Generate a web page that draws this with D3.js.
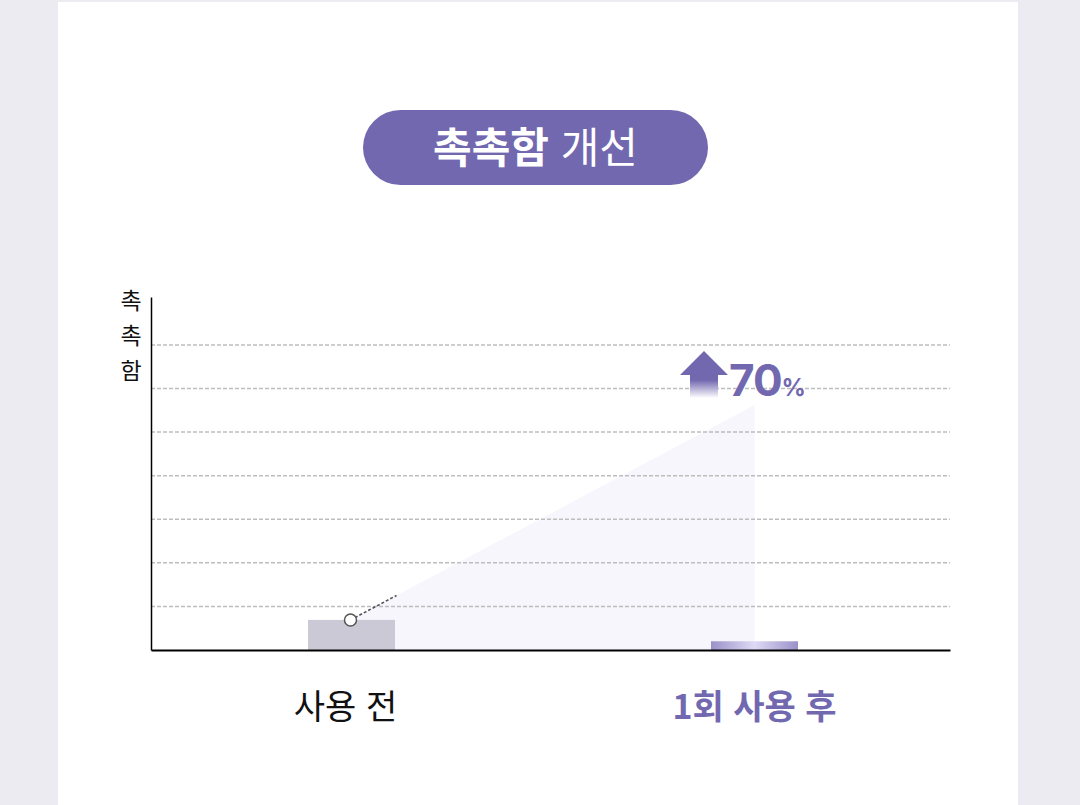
<!DOCTYPE html>
<html lang="ko">
<head>
  <meta charset="UTF-8">
  <title>촉촉함 개선</title>
  <script src="https://d3js.org/d3.v7.min.js"></script>
  <style>
    html, body { margin: 0; padding: 0; background: #ecebf1; }
    body { font-family: "Noto Sans CJK KR", "Noto Sans", sans-serif; }
    svg { display: block; }
  </style>
</head>
<body>
  <div id="chart"></div>
  <script>
    // chart data
    const categories = ["사용 전", "1회 사용 후"];
    const barValues = [0.69, 0.2];
    const trendStart = 0.69;   // circle on first bar
    const trendEnd = 5.62;     // top of shaded rise at 2nd bar
    const gridTicks = [1, 2, 3, 4, 5, 6, 7];
    const increaseLabel = "70";

    const width = 1080, height = 805;
    const svg = d3.select("#chart").append("svg")
      .attr("width", width).attr("height", height);

    // white card
    svg.append("rect").attr("x", 58).attr("y", 2).attr("width", 960).attr("height", 803)
      .attr("fill", "#ffffff");

    const defs = svg.append("defs");
    const barGrad = defs.append("linearGradient").attr("id", "barGrad")
      .attr("x1", "0%").attr("x2", "100%").attr("y1", "0%").attr("y2", "0%");
    barGrad.append("stop").attr("offset", "0%").attr("stop-color", "#9a91c9");
    barGrad.append("stop").attr("offset", "50%").attr("stop-color", "#dedaf5");
    barGrad.append("stop").attr("offset", "100%").attr("stop-color", "#9a91c9");

    const arrowGrad = defs.append("linearGradient").attr("id", "arrowGrad")
      .attr("x1", "0").attr("x2", "0").attr("y1", "0").attr("y2", "1");
    arrowGrad.append("stop").attr("offset", "0%").attr("stop-color", "#7268b0");
    arrowGrad.append("stop").attr("offset", "62%").attr("stop-color", "#7268b0");
    arrowGrad.append("stop").attr("offset", "100%").attr("stop-color", "#ffffff");

    // title pill
    svg.append("rect").attr("x", 363).attr("y", 110).attr("width", 345).attr("height", 75)
      .attr("rx", 37.5).attr("fill", "#7268b0");
    const title = svg.append("text").attr("x", 535.5).attr("y", 163)
      .attr("text-anchor", "middle").attr("fill", "#fff").style("font-size", "42px");
    title.append("tspan").attr("font-weight", 700).text("촉촉함");
    title.append("tspan").attr("font-weight", 400).text(" 개선");

    // scales
    const x0 = 151, x1 = 950;
    const y = d3.scaleLinear().domain([0, 8.1]).range([650, 297]);
    const x = d3.scalePoint().domain(categories).range([351.5, 754.5]);
    const barW = 87;

    // shaded rise area
    const cx0 = x(categories[0]) - 1, cx1 = x(categories[1]);
    const area = d3.area().x(d => d[0]).y0(y(0)).y1(d => y(d[1]));
    svg.append("path")
      .datum([[cx0, trendStart], [cx1, trendEnd]])
      .attr("d", area)
      .attr("fill", "#f7f6fc");

    // grid
    svg.append("g").selectAll("line").data(gridTicks).join("line")
      .attr("x1", x0).attr("x2", x1)
      .attr("y1", d => y(d)).attr("y2", d => y(d))
      .attr("stroke", "#bdbdbd").attr("stroke-width", 1.5)
      .attr("stroke-dasharray", "4,2");

    // bars
    svg.append("g").selectAll("rect").data(categories).join("rect")
      .attr("x", d => x(d) - barW / 2)
      .attr("y", (d, i) => y(barValues[i]))
      .attr("width", barW)
      .attr("height", (d, i) => y(0) - y(barValues[i]))
      .attr("fill", (d, i) => i === 0 ? "#cbc9d6" : "url(#barGrad)");

    // short dashed trend stub along the rise edge
    const slope = (y(trendEnd) - y(trendStart)) / (cx1 - cx0);
    svg.append("line")
      .attr("x1", cx0).attr("y1", y(trendStart))
      .attr("x2", cx0 + 46).attr("y2", y(trendStart) + slope * 46)
      .attr("stroke", "#555").attr("stroke-width", 1.6).attr("stroke-dasharray", "3,2");
    svg.append("circle").attr("cx", cx0).attr("cy", y(trendStart)).attr("r", 6)
      .attr("fill", "#fff").attr("stroke", "#555").attr("stroke-width", 1.5);

    // axes
    svg.append("g").attr("transform", `translate(0,${y(0)})`)
      .call(d3.axisBottom(d3.scaleLinear().range([x0, x1])).ticks(0).tickSize(0))
      .call(g => g.select(".domain").attr("stroke", "#000").attr("stroke-width", 2))
      .call(g => g.selectAll("text").remove());
    svg.append("g").attr("transform", `translate(${x0},0)`)
      .call(d3.axisLeft(d3.scaleLinear().range([y(0), 297])).ticks(0).tickSize(0))
      .call(g => g.select(".domain").attr("stroke", "#000").attr("stroke-width", 1.5))
      .call(g => g.selectAll("text").remove());

    // vertical y label
    svg.append("g").selectAll("text").data(["촉", "촉", "함"]).join("text")
      .attr("x", 131).attr("y", (d, i) => 309 + i * 35)
      .attr("text-anchor", "middle").style("font-size", "23px").attr("fill", "#111")
      .text(d => d);

    // category labels
    svg.append("g").selectAll("text").data(categories).join("text")
      .attr("x", d => x(d) - (d === categories[0] ? 6 : 0)).attr("y", 719)
      .attr("text-anchor", "middle")
      .style("font-size", "34px")
      .attr("font-weight", (d, i) => i === 0 ? 400 : 700)
      .attr("fill", (d, i) => i === 0 ? "#111" : "#7268b0")
      .text(d => d);

    // up arrow + label
    const ax = 704;
    svg.append("path")
      .attr("d", `M${ax},351 L${ax + 24},375 L${ax + 14},375 L${ax + 14},398 L${ax - 14},398 L${ax - 14},375 L${ax - 24},375 Z`)
      .attr("fill", "url(#arrowGrad)");
    const pct = svg.append("text").attr("x", 729).attr("y", 396)
      .attr("fill", "#7268b0").attr("font-weight", 700)
      .attr("font-family", "Inter, 'Noto Sans', sans-serif");
    pct.append("tspan").style("font-size", "44px").attr("letter-spacing", "-1").text(increaseLabel);
    pct.append("tspan").style("font-size", "24px").text("%");
  </script>
</body>
</html>
